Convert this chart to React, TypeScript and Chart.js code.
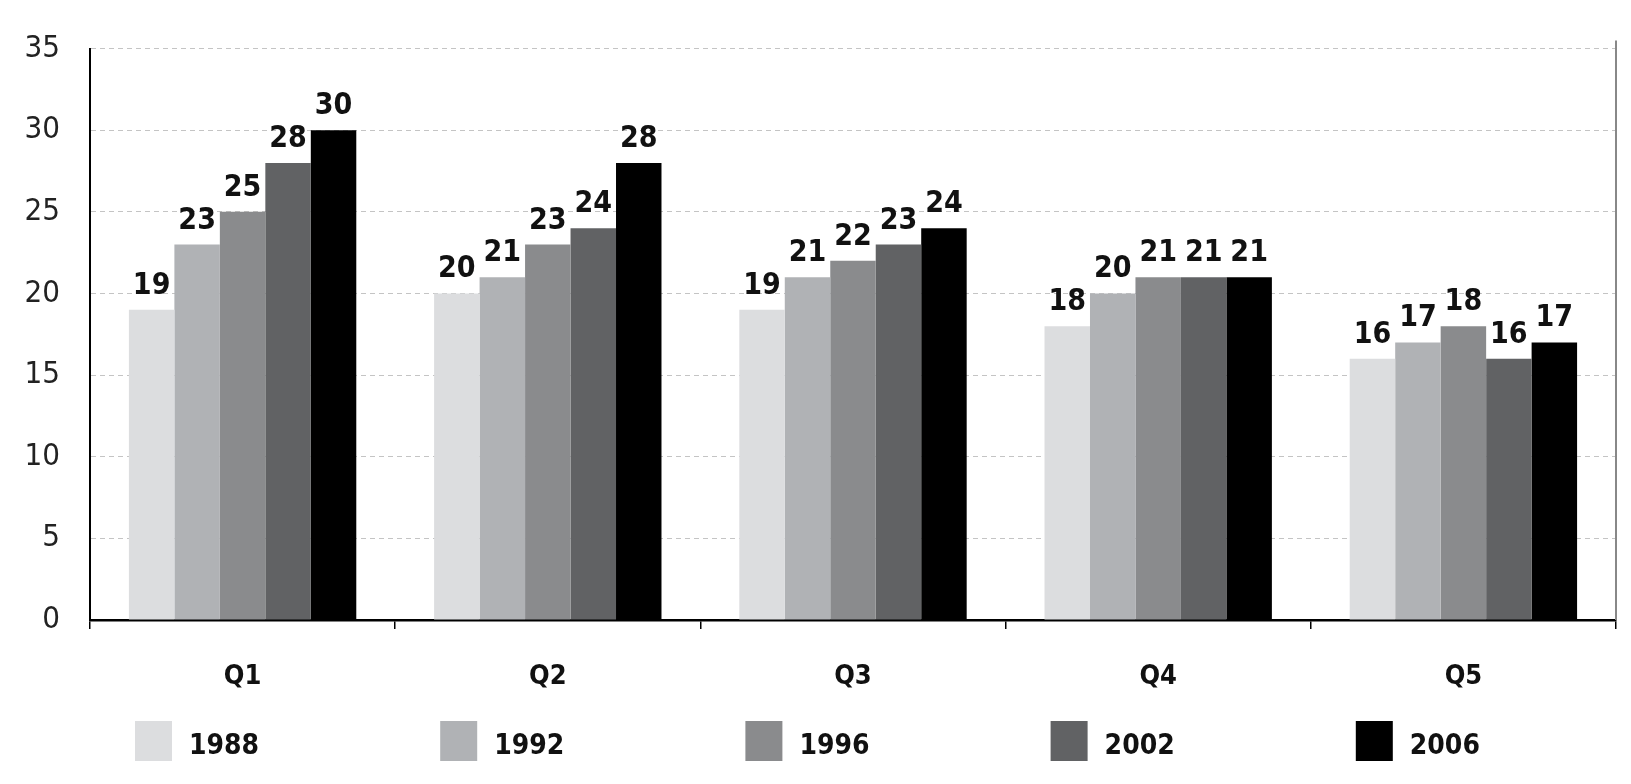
import React, { useEffect, useRef } from "react";
import { Chart, registerables } from "chart.js";
Chart.register(...registerables);

const categories = ["Q1", "Q2", "Q3", "Q4", "Q5"];
const years = ["1988", "1992", "1996", "2002", "2006"];
const colors = ["#dcdddf", "#b0b2b5", "#8a8b8d", "#616264", "#000000"];
const v1988 = [19, 20, 19, 18, 16];
const v1992 = [23, 21, 21, 20, 17];
const v1996 = [25, 23, 22, 21, 18];
const v2002 = [28, 24, 23, 21, 16];
const v2006 = [30, 28, 24, 21, 17];
const series = [v1988, v1992, v1996, v2002, v2006];
const FONT = "'DejaVu Sans Condensed', 'DejaVu Sans', sans-serif";

const labelsPlugin = {
  id: "labels",
  afterDatasetsDraw(chart: any) {
    const ctx = chart.ctx;
    const ca = chart.chartArea;
    ctx.save();
    // right frame line
    ctx.strokeStyle = "#888";
    ctx.lineWidth = 2;
    ctx.beginPath();
    ctx.moveTo(ca.right, ca.top - 8);
    ctx.lineTo(ca.right, ca.bottom);
    ctx.stroke();
    ctx.fillStyle = "#111";
    ctx.font = `bold 30px ${FONT}`;
    ctx.textAlign = "center";
    ctx.textBaseline = "alphabetic";
    chart.data.datasets.forEach((ds: any, i: number) => {
      chart.getDatasetMeta(i).data.forEach((bar: any, j: number) => {
        ctx.fillText(String(ds.data[j]), bar.x, bar.y - 16);
      });
    });
    const xs = chart.scales.x;
    const step = (xs.right - xs.left) / categories.length;
    years.forEach((y, i) => {
      const x0 = xs.left + step * i + 45;
      ctx.fillStyle = colors[i];
      ctx.fillRect(x0, 721, 37, 40);
      ctx.fillStyle = "#111";
      ctx.textAlign = "left";
      ctx.textBaseline = "middle";
      ctx.font = `bold 28px ${FONT}`;
      ctx.fillText(y, x0 + 54, 747);
    });
    ctx.restore();
  },
};

export default function App() {
  const ref = useRef<HTMLCanvasElement>(null);
  useEffect(() => {
    document.body.style.margin = "0";
    const chart = new Chart(ref.current!, {
      type: "bar",
      data: {
        labels: categories,
        datasets: years.map((y, i) => ({
          label: y,
          data: series[i],
          backgroundColor: colors[i],
          barPercentage: 1,
          categoryPercentage: 0.745,
        })),
      },
      options: {
        animation: false,
        responsive: false,
        layout: { padding: { top: 47, right: 15, left: 0, bottom: 0 } },
        plugins: { legend: { display: false }, tooltip: { enabled: false } },
        scales: {
          x: {
            afterFit: (s: any) => { s.height = 164; },
            grid: { offset: true, drawOnChartArea: false, tickLength: 9, color: "#000", lineWidth: 1.5 },
            border: { color: "#000", width: 2.5 },
            ticks: { color: "#111", font: { family: FONT, size: 27, weight: "bold" }, padding: 32 },
          },
          y: {
            min: 0, max: 35,
            afterFit: (s: any) => { s.width = 90; },
            grid: { color: "#c4c4c4", tickLength: 0, drawTicks: false },
            border: { color: "#000", width: 2, dash: [5, 4] } as any,
            ticks: { stepSize: 5, color: "#222", font: { family: FONT, size: 31, weight: "300" }, padding: 30 },
          },
        },
      },
      plugins: [labelsPlugin],
    });
    return () => chart.destroy();
  }, []);
  return (
    <div style={{ width: 1631, height: 784 }}>
      <canvas ref={ref} width={1631} height={784} />
    </div>
  );
}
